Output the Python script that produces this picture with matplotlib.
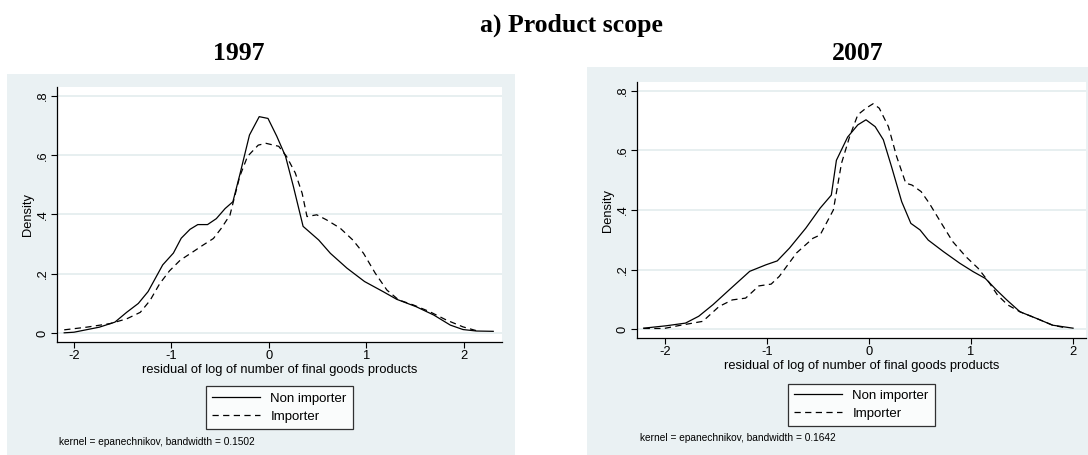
import matplotlib
matplotlib.use("Agg")
import matplotlib.pyplot as plt
from matplotlib.patches import Rectangle

# Kernel density estimates of residual log product scope, 1997
x97_non = [-2.10, -2.00, -1.74, -1.58, -1.46, -1.34, -1.24, -1.09, -0.98, -0.90,
           -0.81, -0.73, -0.63, -0.54, -0.45, -0.37, -0.30, -0.20, -0.10, -0.01,
           0.08, 0.17, 0.25, 0.35, 0.51, 0.63, 0.80, 0.98, 1.17, 1.31,
           1.51, 1.69, 1.86, 1.99, 2.13, 2.30]
y97_non = [0.001, 0.003, 0.020, 0.037, 0.070, 0.100, 0.140, 0.230, 0.270, 0.320,
           0.350, 0.366, 0.366, 0.386, 0.420, 0.443, 0.533, 0.668, 0.730, 0.724,
           0.664, 0.596, 0.495, 0.360, 0.314, 0.269, 0.219, 0.174, 0.140, 0.114,
           0.089, 0.061, 0.027, 0.012, 0.007, 0.006]
x97_imp = [-2.10, -1.87, -1.63, -1.46, -1.32, -1.22, -1.12, -1.02, -0.91, -0.78,
           -0.68, -0.57, -0.49, -0.40, -0.30, -0.22, -0.11, -0.03, 0.10, 0.18,
           0.27, 0.34, 0.39, 0.49, 0.59, 0.73, 0.86, 0.97, 1.09, 1.21,
           1.33, 1.48, 1.65, 1.82, 1.99, 2.13]
y97_imp = [0.011, 0.020, 0.032, 0.048, 0.070, 0.110, 0.167, 0.210, 0.246, 0.274,
           0.296, 0.319, 0.353, 0.398, 0.528, 0.596, 0.634, 0.640, 0.630, 0.596,
           0.540, 0.472, 0.393, 0.399, 0.382, 0.354, 0.314, 0.269, 0.202, 0.145,
           0.112, 0.095, 0.072, 0.044, 0.021, 0.008]

# Same for 2007
x07_non = [-2.21, -1.99, -1.80, -1.67, -1.53, -1.37, -1.17, -1.01, -0.90, -0.78,
           -0.62, -0.48, -0.37, -0.32, -0.21, -0.11, -0.03, 0.06, 0.14, 0.22,
           0.32, 0.41, 0.50, 0.58, 0.73, 0.89, 1.02, 1.14, 1.25, 1.35,
           1.48, 1.64, 1.80, 2.00]
y07_non = [0.003, 0.011, 0.020, 0.043, 0.082, 0.132, 0.194, 0.216, 0.229, 0.272,
           0.339, 0.406, 0.450, 0.567, 0.645, 0.686, 0.703, 0.680, 0.636, 0.546,
           0.428, 0.355, 0.333, 0.299, 0.260, 0.221, 0.193, 0.170, 0.131, 0.098,
           0.058, 0.036, 0.013, 0.003]
x07_imp = [-2.21, -2.01, -1.86, -1.63, -1.47, -1.34, -1.21, -1.08, -0.96, -0.88,
           -0.71, -0.55, -0.48, -0.35, -0.27, -0.19, -0.11, -0.03, 0.04, 0.10,
           0.19, 0.27, 0.36, 0.42, 0.51, 0.59, 0.71, 0.82, 0.95, 1.07,
           1.17, 1.26, 1.36, 1.48, 1.64, 1.80, 1.93]
y07_imp = [0.002, 0.002, 0.012, 0.026, 0.076, 0.098, 0.104, 0.145, 0.151, 0.177,
           0.256, 0.305, 0.316, 0.400, 0.557, 0.647, 0.720, 0.742, 0.757, 0.742,
           0.680, 0.580, 0.490, 0.484, 0.462, 0.423, 0.355, 0.294, 0.243, 0.204,
           0.160, 0.114, 0.081, 0.058, 0.036, 0.013, 0.004]

yticks = [0, 0.2, 0.4, 0.6, 0.8]
ytick_labels = ["0", ".2", ".4", ".6", ".8"]
xticks = [-2, -1, 0, 1, 2]
xtick_labels = ["-2", "-1", "0", "1", "2"]

bg = "#EAF1F3"
sans = "Liberation Sans"
serif = "Liberation Serif"

W, H = 1088, 455
fig = plt.figure(figsize=(W / 100, H / 100), dpi=100)


def px(x0, y0, x1, y1):
    # pixel box (top-left origin) -> figure fraction rect
    return [x0 / W, 1 - y1 / H, (x1 - x0) / W, (y1 - y0) / H]


# shaded graph regions
for (x0, y0, x1, y1) in [(7, 74, 515, 455), (587, 67, 1088, 455)]:
    r = px(x0, y0, x1, y1)
    fig.patches.append(Rectangle((r[0], r[1]), r[2], r[3], transform=fig.transFigure,
                                 facecolor=bg, edgecolor="none", zorder=-5))

panels = [
    dict(box=(57, 87, 502, 342), xlim=(-2.174, 2.39), title="1997", tx=239,
         non=(x97_non, y97_non), imp=(x97_imp, y97_imp), bw="0.1502",
         note=(59, 442), leg_y=-0.148),
    dict(box=(637, 82, 1086, 338), xlim=(-2.275, 2.127), title="2007", tx=858,
         non=(x07_non, y07_non), imp=(x07_imp, y07_imp), bw="0.1642",
         note=(640, 438), leg_y=-0.152),
]

for p in panels:
    ax = fig.add_axes(px(*p["box"]))
    ax.set_facecolor("white")
    ax.plot(*p["non"], color="black", lw=0.9, label="Non importer")
    ax.plot(*p["imp"], color="black", lw=0.9, linestyle=(0, (5, 3.5)), label="Importer")
    ax.set_xlim(*p["xlim"])
    ax.set_ylim(-0.030, 0.830)
    for yv in yticks:
        ax.axhline(yv, color="#E3ECEE", lw=1.2, zorder=0)
    ax.set_yticks(yticks)
    ax.set_yticklabels(ytick_labels, rotation=90, va="center", family=sans, fontsize=9.3)
    ax.set_xticks(xticks)
    ax.set_xticklabels(xtick_labels, family=sans, fontsize=9.3)
    ax.tick_params(direction="out", length=4, width=0.8, color="black", pad=2)
    for s in ["top", "right"]:
        ax.spines[s].set_visible(False)
    for s in ["left", "bottom"]:
        ax.spines[s].set_linewidth(0.9)
    ax.set_ylabel("Density", family=sans, fontsize=9.3, labelpad=2)
    ax.set_xlabel("residual of log of number of final goods products", family=sans,
                  fontsize=9.3, labelpad=1)
    leg = ax.legend(loc="upper center", bbox_to_anchor=(0.5, p["leg_y"]), ncol=1,
                    frameon=True, fancybox=False, handlelength=3.6, handletextpad=0.8,
                    borderpad=0.45, labelspacing=0.45, prop=dict(family=sans, size=9.5))
    leg.get_frame().set_edgecolor("black")
    leg.get_frame().set_linewidth(0.9)
    fig.text(p["tx"] / W, 1 - 53 / H, p["title"], family=serif, weight="bold",
             fontsize=18.5, ha="center", va="center")
    nx, ny = p["note"]
    fig.text(nx / W, 1 - ny / H, "kernel = epanechnikov, bandwidth = " + p["bw"],
             family=sans, fontsize=7.3, ha="left", va="center")

fig.text(571 / W, 1 - 25 / H, "a) Product scope", family=serif, weight="bold",
         fontsize=18.5, ha="center", va="center")

fig.savefig("out.png", dpi=100)
